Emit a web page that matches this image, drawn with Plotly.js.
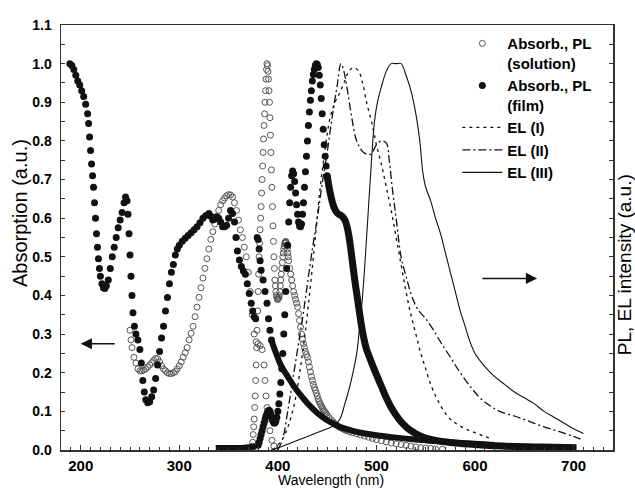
<!DOCTYPE html>
<html>
<head>
<meta charset="utf-8">
<script src="https://cdn.plot.ly/plotly-3.0.1.min.js"></script>
<style>html,body{margin:0;padding:0;background:#fff;}#chart{width:635px;height:489px;}</style>
</head>
<body>
<div id="chart"></div>
<script>
// ---- Absorption, solution (open circles) ----
var solAbsX = [250,251,252,254,256,258,260,262,264,266,268,270,272,274,276,278,280,282,284,286,288,290,292,294,296,298,300,302,304,306,308,310,312,314,316,318,320,322,324,326,328,330,332,334,336,338,340,342,344,346,348,350,352,354,356,358,360,362,364,366,368,370,372,374,376,378,380,382,384,386,387,388,389,390,392,394,396];
var solAbsY = [0.31,0.285,0.265,0.24,0.225,0.21,0.205,0.205,0.207,0.21,0.215,0.22,0.226,0.232,0.237,0.236,0.228,0.218,0.21,0.205,0.2,0.198,0.198,0.2,0.203,0.21,0.218,0.228,0.24,0.252,0.265,0.285,0.302,0.32,0.345,0.37,0.395,0.42,0.445,0.47,0.495,0.52,0.545,0.565,0.585,0.605,0.62,0.635,0.645,0.652,0.658,0.661,0.66,0.655,0.64,0.62,0.595,0.57,0.55,0.525,0.5,0.46,0.41,0.35,0.3,0.28,0.275,0.27,0.26,0.22,0.18,0.14,0.11,0.08,0.05,0.025,0.01];

// ---- PL, solution (open circles) ----
var solPLX = [372,373,374,374.5,375,375.5,376,376.5,377,377.5,378,378.5,379,379.5,380,380.5,381,381.5,382,382.5,383,383.5,384,384.5,385,385.5,386,386.5,387,387.5,388,388.5,389,389.5,390,390.5,391,391.5,392,392.5,393,393.5,394,394.5,395,395.5,396,396.5,397,397.5,398,398.5,399,399.5,400,400.5,401,401.5,402,402.5,403,403.5,404,404.5,405,405.5,406,406.5,407,407.5,408,408.5,409,409.5,410,410.5,411,412,413,414,415,416,417,418,419,420,421,422,423,424,425,426,427,428,429,430,431,432,433,434,435,436,437,438,439,440,441,442,443,444,445,446,447,448,449,450,452,454,456,458,460,462,464,466,468,470,473,476,480,484,488,492,496,500,505,510,515,520,525,530,535,540,545,550,555,560,567];
var solPLY = [0.0,0.005,0.01,0.02,0.04,0.06,0.08,0.11,0.14,0.18,0.22,0.265,0.31,0.36,0.41,0.455,0.5,0.535,0.57,0.6,0.63,0.665,0.7,0.735,0.77,0.805,0.84,0.87,0.9,0.93,0.96,0.985,1.0,0.995,0.98,0.96,0.93,0.9,0.86,0.815,0.77,0.725,0.68,0.63,0.58,0.54,0.5,0.47,0.44,0.425,0.41,0.4,0.395,0.39,0.39,0.392,0.395,0.4,0.41,0.425,0.44,0.455,0.47,0.485,0.5,0.51,0.52,0.528,0.535,0.538,0.54,0.537,0.53,0.52,0.51,0.5,0.49,0.47,0.455,0.44,0.425,0.41,0.4,0.39,0.38,0.37,0.353,0.335,0.318,0.3,0.287,0.275,0.265,0.255,0.247,0.24,0.228,0.215,0.202,0.19,0.18,0.17,0.162,0.155,0.147,0.14,0.132,0.125,0.12,0.115,0.11,0.105,0.101,0.098,0.094,0.09,0.084,0.078,0.073,0.068,0.064,0.06,0.057,0.055,0.052,0.05,0.047,0.045,0.042,0.039,0.036,0.033,0.03,0.027,0.024,0.021,0.018,0.016,0.014,0.012,0.01,0.008,0.006,0.005,0.004,0.003,0.002];

// ---- Absorption, film (filled circles) ----
var filmAbsX = [189,191,193,195,197,199,201,203,205,207,208,209,210,211,212,213,214,215,216,217,218,219,220,221.5,223,224.5,226,228,230,232,234,236,238,240,242,244,245.5,247,248,249,250,251,252,253,254.5,256,258,260,261.5,263,264.5,266,268,270,272,274,276,278,280,282,284,286,288,290,292,294,296,298,300,303,306,309,312,315,318,321,324,327,330,332,334,336,338,340,342,344,346,348,350,352,354,356,357.5,359,361,363,365,367,369,371,373,374.5,376,377.5,379,380,381,382,383,385,387,389,390.5,392,393.5];
var filmAbsY = [1.0,0.995,0.985,0.97,0.955,0.945,0.93,0.915,0.895,0.87,0.845,0.81,0.775,0.74,0.71,0.68,0.64,0.6,0.56,0.525,0.495,0.47,0.45,0.43,0.42,0.418,0.425,0.44,0.47,0.5,0.525,0.55,0.575,0.595,0.615,0.64,0.655,0.645,0.61,0.56,0.505,0.45,0.4,0.355,0.32,0.3,0.285,0.26,0.225,0.18,0.15,0.13,0.122,0.125,0.138,0.155,0.185,0.22,0.255,0.29,0.32,0.36,0.395,0.43,0.46,0.48,0.505,0.52,0.53,0.54,0.548,0.555,0.562,0.57,0.578,0.588,0.6,0.607,0.612,0.605,0.595,0.598,0.603,0.6,0.59,0.578,0.578,0.582,0.6,0.62,0.612,0.59,0.55,0.515,0.492,0.475,0.463,0.455,0.43,0.405,0.38,0.36,0.345,0.34,0.55,0.545,0.52,0.49,0.465,0.44,0.41,0.38,0.34,0.31,0.285];
var filmAbsTailX = [393.5,396,399,402,405,410,415,420,425,430,435,440,445,450,455,460,470,480,490,500,520,540,560,580,600,620];
var filmAbsTailY = [0.285,0.265,0.245,0.225,0.21,0.19,0.17,0.152,0.136,0.121,0.108,0.096,0.086,0.077,0.07,0.063,0.054,0.047,0.042,0.038,0.032,0.027,0.023,0.019,0.016,0.013];

// ---- PL, film (filled circles) ----
var filmPLBaseX = [337,350,365,378];
var filmPLBaseY = [0.005,0.005,0.006,0.009];
var filmPLX = [380,381,382,383,384,385,386,387,388,389,390,391,392,393,394,395,396,397,398,399,400,401,402,403,404,405,406,407,408,409,410,411,412,413,414,415,416,417,418,419,420,421,422,423,424,425,426,427,428,429,430,431,432,433,434,435,436,437,438,439,440,441,442,443,444,445,446,447,448,449,450];
var filmPLY = [0.012,0.02,0.03,0.04,0.05,0.06,0.07,0.08,0.088,0.095,0.1,0.103,0.1,0.092,0.082,0.075,0.07,0.07,0.075,0.085,0.1,0.12,0.145,0.175,0.21,0.25,0.3,0.35,0.41,0.47,0.53,0.59,0.64,0.68,0.71,0.722,0.715,0.695,0.665,0.635,0.61,0.59,0.58,0.578,0.585,0.61,0.64,0.68,0.72,0.76,0.8,0.84,0.875,0.905,0.93,0.955,0.972,0.985,0.995,1.0,0.998,0.99,0.97,0.945,0.91,0.87,0.83,0.79,0.76,0.735,0.71];
var filmPLTailX = [450,452,454,456,458,460,462,464,466,468,470,472,474,476,478,480,482,484,486,488,490,493,496,500,505,510,515,520,525,530,535,540,545,550,560,570,580,600,620,640,660,680,703];
var filmPLTailY = [0.71,0.68,0.655,0.635,0.622,0.614,0.61,0.607,0.603,0.595,0.58,0.555,0.52,0.48,0.44,0.405,0.37,0.335,0.305,0.28,0.26,0.24,0.22,0.195,0.165,0.135,0.11,0.09,0.073,0.06,0.05,0.042,0.036,0.031,0.025,0.021,0.018,0.014,0.011,0.009,0.008,0.007,0.006];

// ---- EL spectra ----
var el1X = [395,405,415,425,432,438,443,448,453,458,462,467,472,477,482,486,490,495,500,505,510,515,520,525,530,535,540,545,550,555,560,565,570,575,580,590,600,610,618];
var el1Y = [0.0,0.03,0.1,0.25,0.4,0.55,0.68,0.78,0.86,0.9,0.92,0.95,0.98,0.99,0.98,0.95,0.9,0.85,0.79,0.74,0.68,0.62,0.55,0.48,0.41,0.35,0.3,0.25,0.21,0.17,0.14,0.115,0.095,0.08,0.07,0.055,0.045,0.035,0.028];
var el2X = [400,405,410,415,420,425,430,435,440,445,450,455,460,464,467,470,475,480,487,494,500,505,510,513,516,520,525,530,537,543,550,558,565,575,585,595,605,615,625,640,655,670,685,700,707];
var el2Y = [0.0,0.03,0.1,0.18,0.26,0.34,0.43,0.52,0.6,0.69,0.77,0.86,0.94,1.0,0.98,0.94,0.86,0.8,0.77,0.765,0.79,0.8,0.795,0.75,0.68,0.6,0.5,0.45,0.39,0.36,0.34,0.31,0.28,0.24,0.2,0.165,0.135,0.115,0.1,0.088,0.074,0.06,0.048,0.035,0.028];
var el3X = [393,400,410,420,430,440,450,458,463,468,473,477,480,483,486,489,492,495,498,501,505,510,515,520,525,530,535,540,544,547,550,555,560,565,570,575,580,585,590,595,600,607,614,620,630,640,650,660,670,680,690,700,710];
var el3Y = [0.0,0.005,0.015,0.025,0.035,0.045,0.055,0.065,0.08,0.12,0.165,0.21,0.25,0.32,0.4,0.51,0.63,0.75,0.85,0.9,0.94,0.98,1.0,1.0,1.0,0.97,0.93,0.87,0.8,0.72,0.68,0.645,0.6,0.56,0.51,0.46,0.41,0.36,0.32,0.28,0.25,0.225,0.205,0.19,0.17,0.15,0.135,0.12,0.1,0.085,0.07,0.055,0.043];

// ---- labels ----
var xTitle = 'Wavelength (nm)';
var yTitle = 'Absorption (a.u.)';
var y2Title = 'PL, EL intensity (a.u.)';
var legendNames = ['Absorb., PL<br>(solution)', 'Absorb., PL<br>(film)', 'EL (I)', 'EL (II)', 'EL (III)'];

var FONT = 'Liberation Sans, Arial, sans-serif';
var filmColor = '#111';
var solMarker = {symbol: 'circle-open', size: 6, color: '#555', line: {width: 1, color: '#555'}};
var filmMarker = {symbol: 'circle', size: 7, color: filmColor};

var traces = [
  {x: solAbsX, y: solAbsY, mode: 'markers', marker: solMarker, name: legendNames[0], legendgroup: 'sol', showlegend: true},
  {x: solPLX, y: solPLY, mode: 'markers', marker: solMarker, name: legendNames[0], legendgroup: 'sol', showlegend: false},
  {x: filmAbsX, y: filmAbsY, mode: 'markers', marker: filmMarker, name: legendNames[1], legendgroup: 'film', showlegend: true},
  {x: filmAbsTailX, y: filmAbsTailY, mode: 'lines', line: {color: filmColor, width: 6, shape: 'spline'}, name: legendNames[1], legendgroup: 'film', showlegend: false},
  {x: filmPLBaseX, y: filmPLBaseY, mode: 'lines', line: {color: filmColor, width: 6}, name: legendNames[1], legendgroup: 'film', showlegend: false},
  {x: filmPLX, y: filmPLY, mode: 'markers', marker: filmMarker, name: legendNames[1], legendgroup: 'film', showlegend: false},
  {x: filmPLTailX, y: filmPLTailY, mode: 'lines', line: {color: filmColor, width: 7, shape: 'spline'}, name: legendNames[1], legendgroup: 'film', showlegend: false},
  {x: el1X, y: el1Y, mode: 'lines', line: {color: '#111', width: 1.3, dash: '3px,4px', shape: 'spline'}, name: legendNames[2], yaxis: 'y2'},
  {x: el2X, y: el2Y, mode: 'lines', line: {color: '#111', width: 1.3, dash: '8px,3px,2px,3px', shape: 'spline'}, name: legendNames[3], yaxis: 'y2'},
  {x: el3X, y: el3Y, mode: 'lines', line: {color: '#111', width: 1.1, shape: 'spline'}, name: legendNames[4], yaxis: 'y2'}
];

var tickFontX = {family: FONT, size: 15, color: '#000', weight: 'bold'};
var tickFontY = {family: FONT, size: 14, color: '#000', weight: 'bold'};

var layout = {
  width: 635, height: 489,
  margin: {l: 61, r: 22, t: 25, b: 39},
  paper_bgcolor: '#fff', plot_bgcolor: '#fff',
  showlegend: true,
  legend: {x: 0.718, y: 0.995, xanchor: 'left', yanchor: 'top', bgcolor: 'rgba(0,0,0,0)',
           font: {family: FONT, size: 15, color: '#000', weight: 'bold'},
           valign: 'top', tracegroupgap: 0, itemwidth: 40},
  xaxis: {range: [180, 740], tick0: 200, dtick: 100, ticks: 'inside', ticklen: 5, tickwidth: 1, tickcolor: '#333',
          minor: {dtick: 10, ticks: 'inside', ticklen: 3, tickcolor: '#333'},
          showline: true, linecolor: '#333', linewidth: 1.5, mirror: true, showgrid: false, zeroline: false,
          tickfont: tickFontX, ticklabelstandoff: 1},
  yaxis: {range: [0, 1.1], dtick: 0.1, tickformat: '.1f', ticks: 'inside', ticklen: 4, tickwidth: 1, tickcolor: '#333',
          minor: {dtick: 0.05, ticks: 'inside', ticklen: 4, tickcolor: '#333'},
          showline: true, linecolor: '#333', linewidth: 1.5, showgrid: false, zeroline: false,
          tickfont: tickFontY, ticklabelstandoff: 5},
  yaxis2: {range: [0, 1.1], overlaying: 'y', side: 'right', dtick: 0.05, ticks: 'inside', ticklen: 4, tickcolor: '#333',
           showticklabels: false, showline: true, linecolor: '#333', linewidth: 1.5, showgrid: false, zeroline: false},
  annotations: [
    {text: xTitle, xref: 'paper', yref: 'paper', x: 0.49, y: -0.0915, xanchor: 'center', yanchor: 'bottom', showarrow: false, borderpad: 0, font: {family: FONT, size: 14, color: '#000'}},
    {text: yTitle, xref: 'paper', yref: 'paper', x: -0.074, y: 0.558, xanchor: 'center', yanchor: 'middle', textangle: -90, showarrow: false, font: {family: FONT, size: 20, color: '#000'}},
    {text: y2Title, xref: 'paper', yref: 'paper', x: 1.02, y: 0.435, xanchor: 'center', yanchor: 'middle', textangle: -90, showarrow: false, font: {family: FONT, size: 19, color: '#000'}},
    {text: '', x: 200, y: 0.275, ax: 236, ay: 0.275, axref: 'x', ayref: 'y', xref: 'x', yref: 'y', showarrow: true, arrowhead: 2, arrowsize: 1.6, arrowwidth: 1.4, arrowcolor: '#111'},
    {text: '', x: 663, y: 0.444, ax: 606, ay: 0.444, axref: 'x', ayref: 'y', xref: 'x', yref: 'y', showarrow: true, arrowhead: 2, arrowsize: 1.6, arrowwidth: 1.4, arrowcolor: '#111'}
  ]
};

Plotly.newPlot('chart', traces, layout, {displayModeBar: false, staticPlot: true});
</script>
</body>
</html>
